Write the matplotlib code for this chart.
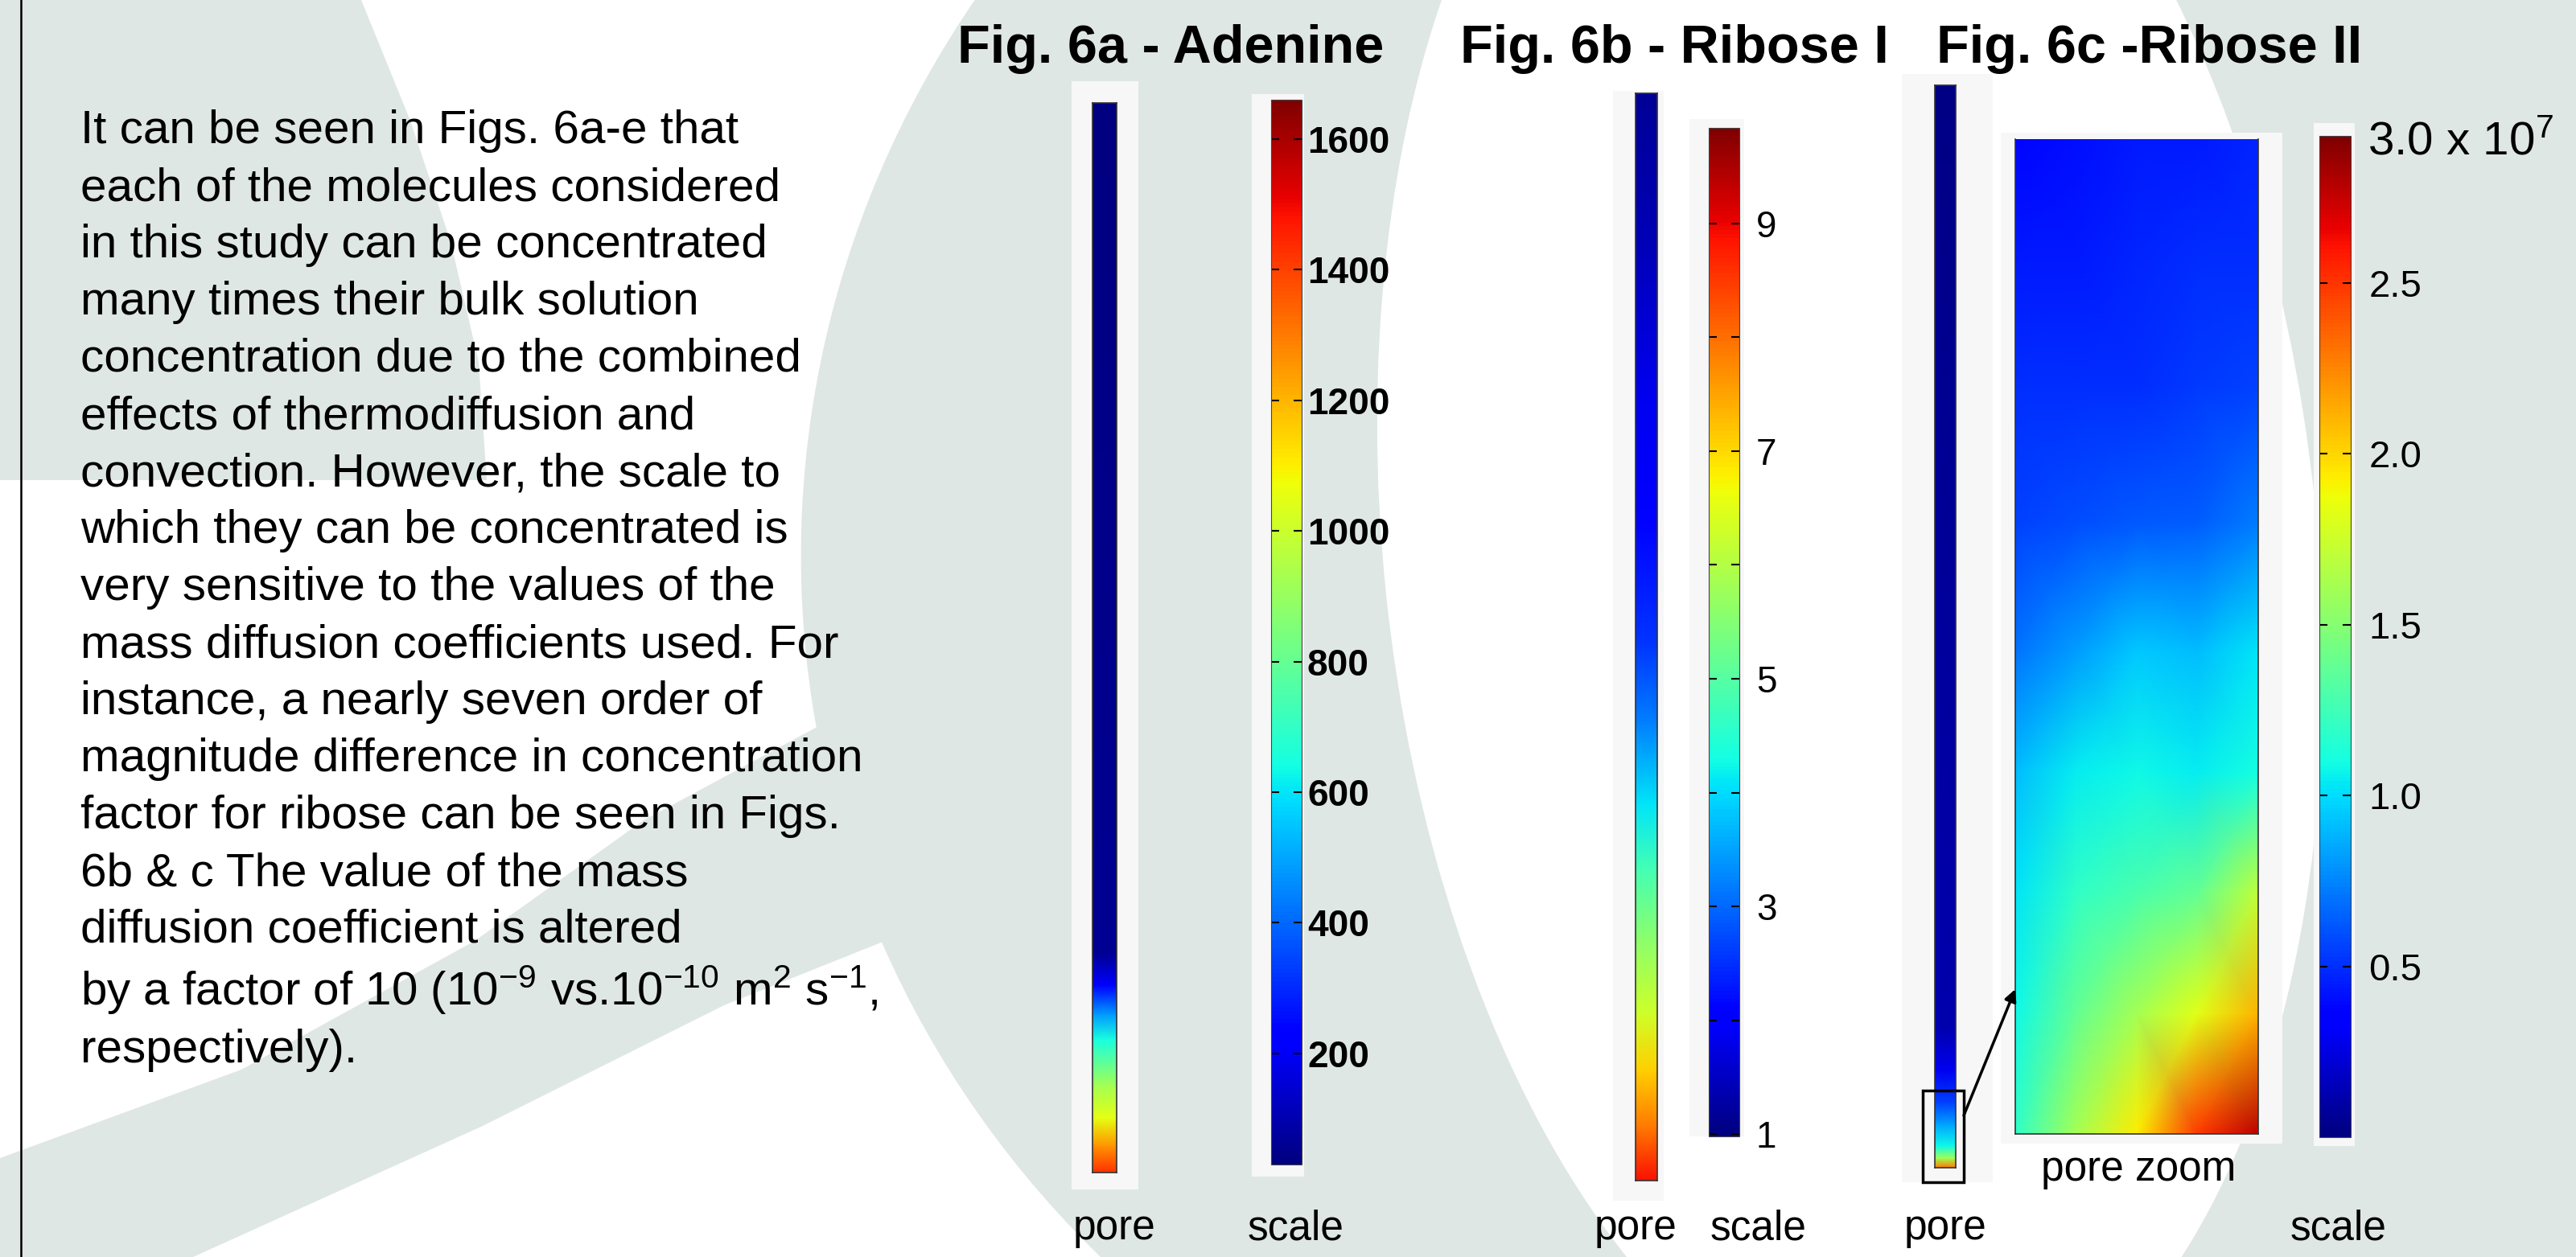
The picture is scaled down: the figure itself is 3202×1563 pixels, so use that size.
import numpy as np
import matplotlib.pyplot as plt
from matplotlib.patches import Rectangle, Ellipse, Polygon
from matplotlib.colors import Normalize
from matplotlib.cm import ScalarMappable

plt.rcParams["font.family"] = "Liberation Sans"
plt.rcParams["mathtext.fontset"] = "custom"
plt.rcParams["mathtext.rm"] = "Liberation Sans"
plt.rcParams["mathtext.it"] = "Liberation Sans"
plt.rcParams["mathtext.bf"] = "Liberation Sans:bold"

W, H = 3202, 1563
GRAY = "#dfe7e4"
FRAME = "#f7f7f7"

# ---- data ----
body_lines = [
    "It can be seen in Figs. 6a-e that",
    "each of the molecules considered",
    "in this study can be concentrated",
    "many times their bulk solution",
    "concentration due to the combined",
    "effects of thermodiffusion and",
    "convection. However, the scale to",
    "which they can be concentrated is",
    "very sensitive to the values of the",
    "mass diffusion coefficients used. For",
    "instance, a nearly seven order of",
    "magnitude difference in concentration",
    "factor for ribose can be seen in Figs.",
    "6b & c The value of the mass",
    "diffusion coefficient is altered",
    "by a factor of 10 (10$^{-9}$ vs.10$^{-10}$ m$^{2}$ s$^{-1}$,",
    "respectively).",
]

# concentration profile along each pore: height fraction from bottom -> value
adenine_h = [0.0, 0.026, 0.051, 0.081, 0.124, 0.148, 0.175, 0.205, 1.0]
adenine_c = [1430, 1250, 1055, 925, 650, 480, 220, 60, 30]
adenine_range = (30, 1660)
adenine_ticks = [200, 400, 600, 800, 1000, 1200, 1400, 1600]

ribose1_h = [0.0, 0.05, 0.102, 0.154, 0.22, 0.287, 0.346, 0.42, 0.494, 0.605, 0.716, 0.864, 1.0]
ribose1_c = [8.9, 7.9, 7.1, 6.3, 5.59, 4.79, 4.08, 3.2, 2.57, 2.09, 1.87, 1.42, 1.16]
ribose1_range = (0.98, 9.84)
ribose1_ticks = [1, 2, 3, 4, 5, 6, 7, 8, 9]
ribose1_labels = ["1", "", "3", "", "5", "", "7", "", "9"]

ribose2_h = [0.0, 0.009, 0.02, 0.039, 0.06, 0.09, 0.13, 1.0]
ribose2_c = [2.3, 1.6, 1.08, 0.85, 0.56, 0.29, 0.12, 0.02]
ribose2_range = (0.0, 2.93)
ribose2_ticks = [0.5, 1.0, 1.5, 2.0, 2.5]
ribose2_labels = ["0.5", "1.0", "1.5", "2.0", "2.5"]

# pore zoom field (x 1e7), rows from bottom to top
zoom_x = [0.0, 0.25, 0.5, 0.75, 1.0]
zoom_h = [0.0, 0.121, 0.243, 0.364, 0.485, 0.614, 0.752, 0.873, 1.0]
zoom_c = [
    [1.20, 1.61, 1.93, 2.49, 2.78],
    [1.08, 1.38, 1.61, 1.82, 2.11],
    [1.03, 1.20, 1.29, 1.38, 1.70],
    [0.91, 1.05, 1.08, 1.05, 1.11],
    [0.70, 0.82, 0.94, 0.91, 1.03],
    [0.56, 0.59, 0.62, 0.64, 0.73],
    [0.50, 0.50, 0.50, 0.53, 0.56],
    [0.44, 0.44, 0.47, 0.50, 0.50],
    [0.38, 0.41, 0.44, 0.44, 0.47],
]

fig = plt.figure(figsize=(W / 100, H / 100), dpi=100)


def px_axes(x0, y0, x1, y1, z=1):
    return fig.add_axes([x0 / W, 1 - y1 / H, (x1 - x0) / W, (y1 - y0) / H], zorder=z)


# background in pixel coordinates
bg = fig.add_axes([0, 0, 1, 1], zorder=0)
bg.set_xlim(0, W)
bg.set_ylim(H, 0)
bg.axis("off")

bg.add_patch(Polygon([(0, 0), (449, 0), (510, 150), (560, 300), (595, 450), (605, 597), (0, 597)],
                     color=GRAY, lw=0))
bg.add_patch(Polygon([(0, 1440), (300, 1330), (590, 1170), (800, 1020), (1060, 880),
                      (1150, 1150), (900, 1250), (600, 1400), (240, 1563), (0, 1563)],
                     color=GRAY, lw=0))
bg.add_patch(Ellipse((2300, 680), 2610, 2500, angle=-6, color=GRAY, lw=0))
bg.add_patch(Ellipse((2300, 680), 1160, 2200, angle=-6, color="white", lw=0))
bg.axvline(26, color="black", lw=1.8)

# light frames behind the plots
frames = [(1332, 101, 1415, 1479), (1556, 117, 1621, 1463),
          (2005, 113, 2068, 1493), (2100, 148, 2168, 1413),
          (2364, 92, 2477, 1470), (2487, 165, 2837, 1422), (2876, 153, 2927, 1425)]
for x0, y0, x1, y1 in frames:
    bg.add_patch(Rectangle((x0, y0), x1 - x0, y1 - y0, color=FRAME, lw=0))

# body text
ys = [178 + 71 * i for i in range(15)] + [1250, 1321]
for line, y in zip(body_lines, ys):
    bg.text(100, y, line, fontsize=42, va="baseline", ha="left")

# titles
bg.text(1455, 78, "Fig. 6a - Adenine", fontsize=48, fontweight="bold", ha="center", va="baseline")
bg.text(2081, 78, "Fig. 6b - Ribose I", fontsize=48, fontweight="bold", ha="center", va="baseline")
bg.text(2672, 78, "Fig. 6c -Ribose II", fontsize=48, fontweight="bold", ha="center", va="baseline")

# bottom labels
for x, y, s in [(1385, 1541, "pore"), (1611, 1541, "scale"), (2033, 1541, "pore"),
                (2186, 1541, "scale"), (2418, 1541, "pore"), (2907, 1541, "scale"),
                (2658, 1468, "pore zoom")]:
    bg.text(x, y, s, fontsize=37, ha="center", va="baseline")


def draw_pore(ax, h, c, norm):
    X, Y = np.meshgrid([0, 1], np.array(h))
    C = np.column_stack([c, c])
    ax.pcolormesh(X, Y, C, cmap="jet", norm=norm, shading="gouraud")
    ax.set_xlim(0, 1)
    ax.set_ylim(0, 1)
    ax.set_xticks([])
    ax.set_yticks([])
    for s in ax.spines.values():
        s.set_color("#333333")
        s.set_linewidth(1.2)


def draw_scale(ax, norm, ticks, labels, pad, size, weight="normal"):
    cb = fig.colorbar(ScalarMappable(norm=norm, cmap="jet"), cax=ax, ticks=ticks)
    cb.ax.set_yticklabels(labels, fontsize=size, fontweight=weight)
    cb.ax.tick_params(axis="y", direction="in", length=7, width=1.5, left=True,
                      right=True, pad=pad, color="black")
    cb.outline.set_linewidth(0.8)
    cb.outline.set_edgecolor("#444444")
    return cb


# Fig 6a
norm_a = Normalize(*adenine_range)
draw_pore(px_axes(1358, 128, 1388, 1458), adenine_h, adenine_c, norm_a)
draw_scale(px_axes(1580, 124, 1618, 1448), norm_a, adenine_ticks,
           [str(t) for t in adenine_ticks], 5, 33, "bold")

# Fig 6b
norm_b = Normalize(*ribose1_range)
draw_pore(px_axes(2033, 116, 2060, 1468), ribose1_h, ribose1_c, norm_b)
draw_scale(px_axes(2124, 159, 2162, 1413), norm_b, ribose1_ticks, ribose1_labels, 15, 33)

# Fig 6c
norm_c = Normalize(*ribose2_range)
draw_pore(px_axes(2405, 106, 2431, 1452), ribose2_h, ribose2_c, norm_c)
zax = px_axes(2505, 173, 2807, 1410)
ZX, ZY = np.meshgrid(zoom_x, zoom_h)
zax.pcolormesh(ZX, ZY, np.array(zoom_c), cmap="jet", norm=norm_c, shading="gouraud")
zax.set_xlim(0, 1)
zax.set_ylim(0, 1)
zax.set_xticks([])
zax.set_yticks([])
for k, s in zax.spines.items():
    s.set_color("#333333")
    s.set_linewidth(1.2)
zax.spines["top"].set_visible(False)
draw_scale(px_axes(2883, 169, 2922, 1414), norm_c, ribose2_ticks, ribose2_labels, 16, 34)

# overlay: zoom marker, arrow, top label
top = fig.add_axes([0, 0, 1, 1], zorder=10)
top.set_xlim(0, W)
top.set_ylim(H, 0)
top.axis("off")
top.patch.set_alpha(0)
top.add_patch(Rectangle((2390, 1356), 51, 114, fill=False, ec="black", lw=2.5))
top.annotate("", xy=(2505, 1230), xytext=(2441, 1387),
             arrowprops=dict(arrowstyle="-|>", lw=2.5, color="black", mutation_scale=22,
                             shrinkA=0, shrinkB=0))
top.text(2943, 177, "3.0 x 10$^{7}$", fontsize=42, ha="left", va="center")

fig.savefig("out.png", dpi=100)
